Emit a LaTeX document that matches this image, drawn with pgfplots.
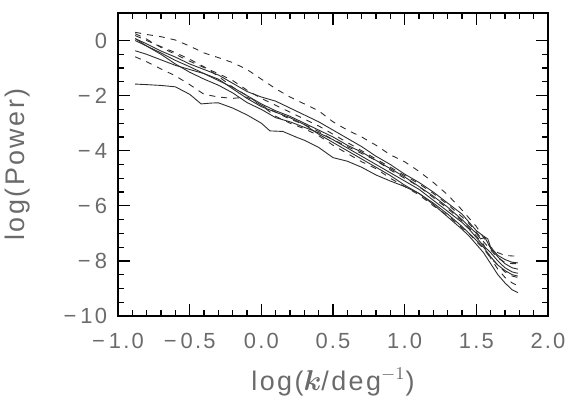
\documentclass[border=0pt]{standalone}
\usepackage{pgfplots}
\pgfplotsset{compat=1.18}
\usepackage{bm}
\usepackage{fontspec}
\setmainfont{Liberation Sans}
\newfontfamily\tickfont[LetterSpace=10]{Liberation Sans}
\newfontfamily\labfont[LetterSpace=9]{Liberation Sans}
\definecolor{txtgray}{gray}{0.42}
\definecolor{lngray}{gray}{0.18}
\newcommand{\mn}{−\hspace{2bp}}
\begin{document}
\begin{tikzpicture}
\begin{axis}[
  at={(0,0)}, anchor=south west,
  scale only axis, width=215bp, height=151.5bp,
  xmin=-1, xmax=2, ymin=-10, ymax=1,
  xtick={-1,-0.5,0,0.5,1,1.5,2},
  xticklabels={\mn1.0,\mn0.5,0.0,0.5,1.0,1.5,2.0},
  ytick={-10,-8,-6,-4,-2,0},
  yticklabels={\mn10,\mn8,\mn6,\mn4,\mn2,0},
  minor x tick num=4, minor y tick num=3,
  tick align=inside, xtick pos=both, ytick pos=both,
  major tick length=6bp, minor tick length=3bp,
  tick style={black, line width=0.6pt},
  axis line style={black, line width=0.75pt},
  ticklabel style={font=\tickfont\fontsize{11}{13}\selectfont, text=txtgray},
  xticklabel style={yshift=-5bp},
  yticklabel style={xshift=-2bp},
  xlabel={log($\bm{k}$/deg$^{-1}$)},
  ylabel={log(Power)},
  every axis x label/.style={at={(axis description cs:0.5,0)}, anchor=center, yshift=-33bp,
     font=\labfont\fontsize{13.5}{15}\selectfont, text=txtgray},
  every axis y label/.style={at={(axis description cs:0,0.5)}, anchor=center, xshift=-50bp, rotate=90,
     font=\labfont\fontsize{13.5}{15}\selectfont, text=txtgray},
  no marks,
]
% D1 dashed top
\addplot[lngray, line width=0.45pt, dash pattern=on 3bp off 3bp] coordinates {
(-0.88,0.30)(-0.8,0.22)(-0.7,0.14)(-0.6,0.02)(-0.5,-0.2)(-0.4,-0.45)(-0.3,-0.62)(-0.2,-0.8)(-0.1,-1.05)(0.0,-1.4)(0.1,-1.75)(0.2,-2.05)(0.3,-2.3)(0.4,-2.55)(0.5,-2.95)(0.6,-3.25)(0.7,-3.5)(0.8,-3.8)(0.9,-4.15)(1.0,-4.4)(1.1,-4.75)(1.2,-5.15)(1.3,-5.6)(1.4,-6.15)(1.45,-6.45)(1.5,-6.75)(1.55,-7.15)(1.6,-7.5)(1.65,-7.7)(1.7,-7.8)(1.75,-7.82)(1.79,-7.82)};
% D2 dashed steep
\addplot[lngray, line width=0.45pt, dash pattern=on 3bp off 3bp] coordinates {
(-0.88,0.18)(-0.8,0.0)(-0.7,-0.22)(-0.6,-0.44)(-0.5,-0.68)(-0.4,-0.95)(-0.3,-1.3)(-0.2,-1.69)(-0.1,-2.0)(0.0,-2.35)(0.1,-2.6)(0.2,-2.85)(0.3,-3.05)(0.4,-3.3)(0.5,-3.6)(0.6,-3.85)(0.7,-4.1)(0.8,-4.35)(0.9,-4.7)(1.0,-5.0)(1.1,-5.3)(1.2,-5.7)(1.3,-6.1)(1.4,-6.55)(1.45,-6.8)(1.5,-7.1)(1.55,-7.4)(1.6,-7.9)(1.65,-8.3)(1.7,-8.6)(1.75,-8.8)(1.79,-8.9)};
% D3 dashed low start
\addplot[lngray, line width=0.45pt, dash pattern=on 3bp off 3bp] coordinates {
(-0.88,-0.59)(-0.8,-0.77)(-0.7,-1.03)(-0.6,-1.28)(-0.5,-1.6)(-0.4,-1.95)(-0.3,-2.05)(-0.2,-2.1)(-0.1,-2.05)(0.0,-2.35)(0.1,-2.75)(0.2,-3.0)(0.3,-3.2)(0.4,-3.45)(0.5,-3.8)(0.6,-4.1)(0.7,-4.4)(0.8,-4.65)(0.9,-5.0)(1.0,-5.3)(1.1,-5.6)(1.2,-6.0)(1.3,-6.35)(1.4,-6.8)(1.45,-7.0)(1.5,-7.3)(1.55,-7.55)(1.6,-7.9)(1.65,-8.15)(1.7,-8.4)(1.75,-8.55)(1.79,-8.6)};
% D4 dashed
\addplot[lngray, line width=0.45pt, dash pattern=on 3bp off 3bp] coordinates {
(-0.88,0.25)(-0.8,0.05)(-0.7,-0.25)(-0.6,-0.5)(-0.5,-0.75)(-0.4,-0.98)(-0.3,-1.2)(-0.2,-1.45)(-0.1,-1.8)(0.0,-2.1)(0.1,-2.35)(0.2,-2.6)(0.3,-2.85)(0.4,-3.1)(0.5,-3.4)(0.6,-3.7)(0.7,-4.0)(0.8,-4.3)(0.9,-4.6)(1.0,-4.9)(1.1,-5.2)(1.2,-5.55)(1.3,-5.95)(1.4,-6.4)(1.45,-6.65)(1.5,-6.95)(1.55,-7.3)(1.6,-7.6)(1.65,-7.9)(1.7,-8.05)(1.75,-8.1)(1.79,-8.1)};
% S1 solid upper
\addplot[lngray, line width=0.45pt, solid] coordinates {
(-0.88,0.07)(-0.8,-0.12)(-0.7,-0.38)(-0.6,-0.6)(-0.5,-0.85)(-0.4,-1.05)(-0.3,-1.25)(-0.2,-1.55)(-0.1,-1.85)(0.0,-2.05)(0.1,-2.2)(0.2,-2.45)(0.3,-2.7)(0.4,-2.95)(0.5,-3.25)(0.6,-3.55)(0.7,-3.85)(0.8,-4.2)(0.9,-4.5)(1.0,-4.85)(1.1,-5.15)(1.2,-5.5)(1.3,-5.9)(1.4,-6.3)(1.45,-6.6)(1.5,-6.9)(1.55,-7.1)(1.58,-7.2)(1.6,-7.5)(1.65,-7.8)(1.7,-7.95)(1.75,-8.05)(1.79,-8.07)};
% S2 solid
\addplot[lngray, line width=0.45pt, solid] coordinates {
(-0.88,0.07)(-0.8,-0.2)(-0.7,-0.5)(-0.6,-0.85)(-0.5,-1.15)(-0.4,-1.4)(-0.3,-1.62)(-0.2,-1.9)(-0.1,-2.25)(0.0,-2.5)(0.1,-2.8)(0.2,-2.95)(0.3,-3.15)(0.4,-3.35)(0.5,-3.6)(0.6,-3.9)(0.7,-4.2)(0.8,-4.5)(0.9,-4.8)(1.0,-5.1)(1.1,-5.4)(1.2,-5.8)(1.3,-6.2)(1.4,-6.6)(1.45,-6.85)(1.5,-7.15)(1.55,-7.45)(1.6,-7.7)(1.65,-8.0)(1.7,-8.25)(1.75,-8.4)(1.79,-8.45)};
% S3 solid
\addplot[lngray, line width=0.45pt, solid] coordinates {
(-0.88,-0.37)(-0.8,-0.5)(-0.7,-0.7)(-0.6,-0.9)(-0.5,-1.05)(-0.4,-1.2)(-0.3,-1.4)(-0.2,-1.75)(-0.1,-2.1)(0.0,-2.4)(0.1,-2.6)(0.2,-2.8)(0.3,-3.05)(0.4,-3.4)(0.5,-3.7)(0.6,-4.0)(0.7,-4.3)(0.8,-4.6)(0.9,-4.9)(1.0,-5.25)(1.1,-5.55)(1.2,-5.9)(1.3,-6.3)(1.4,-6.75)(1.45,-7.0)(1.5,-7.25)(1.55,-7.5)(1.6,-7.85)(1.65,-8.15)(1.7,-8.35)(1.75,-8.5)(1.79,-8.55)};
% S4 solid lowest
\addplot[lngray, line width=0.45pt, solid] coordinates {
(-0.88,-1.58)(-0.8,-1.6)(-0.7,-1.63)(-0.6,-1.68)(-0.5,-1.95)(-0.42,-2.3)(-0.35,-2.27)(-0.3,-2.26)(-0.2,-2.45)(-0.1,-2.7)(0.0,-3.0)(0.06,-3.28)(0.15,-3.3)(0.25,-3.52)(0.3,-3.62)(0.4,-3.88)(0.5,-4.25)(0.6,-4.38)(0.7,-4.6)(0.8,-4.88)(0.9,-5.1)(1.0,-5.3)(1.1,-5.55)(1.2,-5.95)(1.3,-6.4)(1.4,-6.85)(1.45,-7.1)(1.5,-7.4)(1.55,-7.7)(1.6,-8.1)(1.65,-8.5)(1.7,-8.8)(1.75,-9.05)(1.79,-9.15)};
% S5 solid middle
\addplot[lngray, line width=0.45pt, solid] coordinates {
(-0.88,0.0)(-0.8,-0.2)(-0.7,-0.45)(-0.6,-0.72)(-0.5,-0.95)(-0.4,-1.2)(-0.3,-1.45)(-0.2,-1.7)(-0.1,-2.0)(0.0,-2.3)(0.1,-2.55)(0.2,-2.75)(0.3,-3.0)(0.4,-3.25)(0.5,-3.5)(0.6,-3.8)(0.7,-4.05)(0.8,-4.35)(0.9,-4.65)(1.0,-4.95)(1.1,-5.3)(1.2,-5.65)(1.3,-6.05)(1.4,-6.5)(1.45,-6.75)(1.5,-7.0)(1.53,-7.2)(1.56,-7.15)(1.6,-7.55)(1.65,-7.85)(1.7,-8.1)(1.75,-8.25)(1.79,-8.3)};
\end{axis}
\pgfresetboundingbox
\path (-59bp,-41.5bp) rectangle (226bp,158bp);
\end{tikzpicture}
\end{document}
